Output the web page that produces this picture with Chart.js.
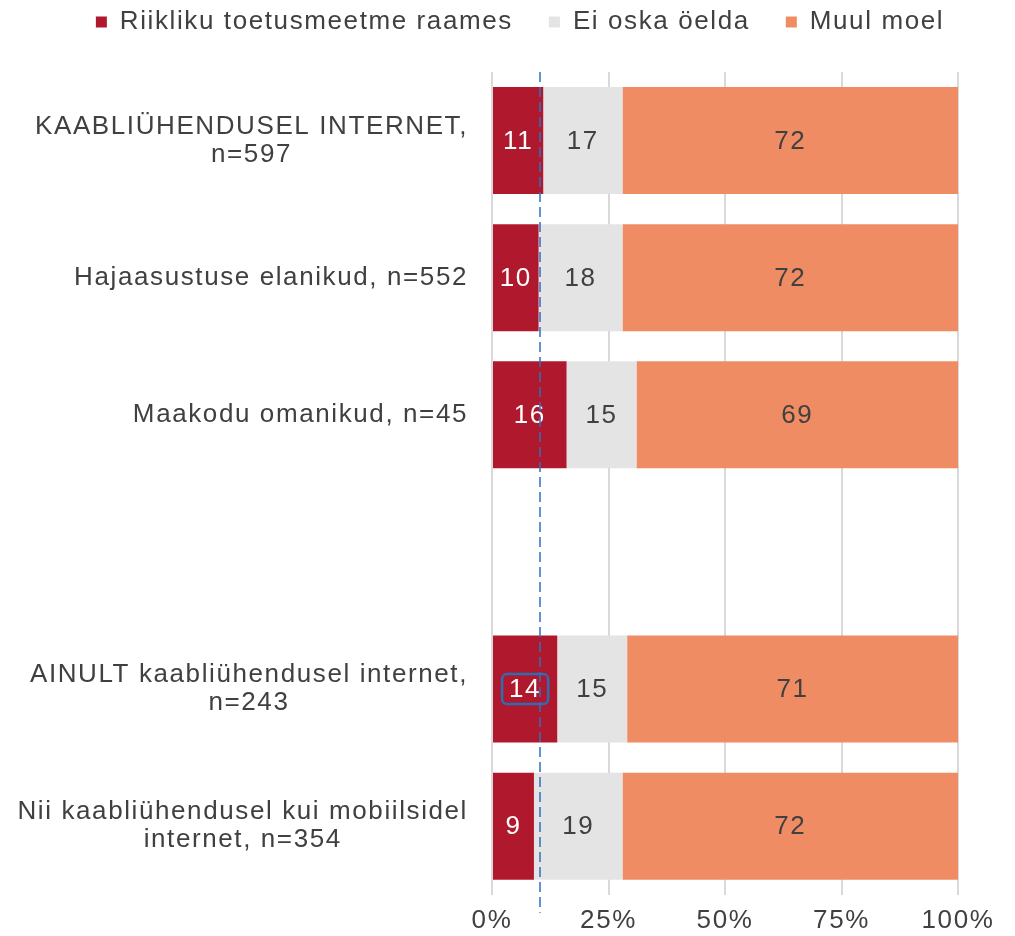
<!DOCTYPE html>
<html>
<head>
<meta charset="utf-8">
<style>
  html, body { margin: 0; padding: 0; background: #fff; }
</style>
<script src="https://cdn.jsdelivr.net/npm/chart.js@4/dist/chart.umd.min.js"></script>
</head>
<body>
<canvas id="grafico" width="1015" height="936"></canvas>
<script>
// andmed
var kategooriad = [
    ['KAABLIÜHENDUSEL INTERNET,', 'n=597'],
    ['Hajaasustuse elanikud, n=552'],
    ['Maakodu omanikud, n=45'],
    [''],
    ['AINULT kaabliühendusel internet,', 'n=243'],
    ['Nii kaabliühendusel kui mobiilsidel', 'internet, n=354']
];
var riiklik = [11, 10, 16, null, 14, 9];
var eiOska = [17, 18, 15, null, 15, 19];
var muulMoel = [72, 72, 69, null, 71, 72];
var seeriad = ['Riikliku toetusmeetme raames', 'Ei oska öelda', 'Muul moel'];
var xTicks = [0, 25, 50, 75, 100];
var keskmine = 10.3;      // sinine katkendjoon
var esiletoos = { seeria: 0, rida: 4 };  // kastiga märgitud silt

var FONT = "'Liberation Sans', Arial, sans-serif";
var TEKST = '#404040';
var VAHE = '1.6px';   // tähevahe, originaal on hõredam

// tähevahe kogu joonisele (canvas kaotab selle suuruse muutmisel)
var taheVahe = {
    id: 'taheVahe',
    beforeUpdate: function (chart) { chart.ctx.letterSpacing = VAHE; },
    beforeDraw: function (chart) { chart.ctx.letterSpacing = VAHE; }
};

// legendi ja joonise vahe, legend veidi paremale
var legendiVahe = {
    id: 'legendiVahe',
    beforeInit: function (chart) {
        var legend = chart.legend;
        var fit = legend.fit;
        legend.fit = function () {
            fit.bind(legend)();
            this.height += 27;
        };
        var draw = legend.draw;
        legend.draw = function () {
            chart.ctx.save();
            chart.ctx.translate(41, 0);
            draw.bind(legend)();
            chart.ctx.restore();
        };
    }
};

// y-telje sildid: plokk paremale, read keskele
var ySildid = {
    id: 'ySildid',
    afterDraw: function (chart) {
        var ctx = chart.ctx;
        var y = chart.scales.y;
        ctx.save();
        ctx.font = '26px ' + FONT;
        ctx.fillStyle = TEKST;
        ctx.textAlign = 'center';
        ctx.textBaseline = 'middle';
        var lh = 28;
        kategooriad.forEach(function (read, i) {
            var w = 0;
            read.forEach(function (r) { w = Math.max(w, ctx.measureText(r).width); });
            var cx = chart.chartArea.left - 24 - w / 2;
            var cy = y.getPixelForValue(i);
            read.forEach(function (r, j) {
                ctx.fillText(r, cx, cy + (j - (read.length - 1) / 2) * lh);
            });
        });
        ctx.restore();
    }
};

// väärtuste sildid ja katkendjoon
var sildid = {
    id: 'sildid',
    afterDatasetsDraw: function (chart) {
        var ctx = chart.ctx;
        ctx.save();
        ctx.font = '26px ' + FONT;
        ctx.textAlign = 'center';
        ctx.textBaseline = 'middle';
        chart.data.datasets.forEach(function (ds, di) {
            var meta = chart.getDatasetMeta(di);
            meta.data.forEach(function (bar, i) {
                var v = ds.data[i];
                if (v === null) return;
                var cx = (bar.x + bar.base) / 2;
                ctx.fillStyle = di === 0 ? '#ffffff' : TEKST;
                ctx.fillText(String(v), cx, bar.y + 1);
                if (di === esiletoos.seeria && i === esiletoos.rida) {
                    var w = ctx.measureText(String(v)).width + 14;
                    ctx.strokeStyle = '#2E6DB4';
                    ctx.lineWidth = 2.5;
                    ctx.beginPath();
                    ctx.roundRect(cx - w / 2, bar.y - 15, w, 30, 5);
                    ctx.stroke();
                }
            });
        });
        var xs = chart.scales.x;
        var x = xs.getPixelForValue(keskmine);
        ctx.strokeStyle = '#2E70C4';
        ctx.lineWidth = 1.5;
        ctx.setLineDash([10, 5]);
        ctx.beginPath();
        ctx.moveTo(x, chart.chartArea.top);
        ctx.lineTo(x, chart.chartArea.bottom + 18);
        ctx.stroke();
        ctx.restore();
    }
};

var ctx = document.getElementById('grafico').getContext('2d');
var grafico = new Chart(ctx, {
    type: 'bar',
    data: {
        labels: kategooriad,
        datasets: [{
            label: seeriad[0],
            data: riiklik,
            backgroundColor: '#B0192D'
        }, {
            label: seeriad[1],
            data: eiOska,
            backgroundColor: '#E4E4E4'
        }, {
            label: seeriad[2],
            data: muulMoel,
            backgroundColor: '#F08C63'
        }]
    },
    options: {
        indexAxis: 'y',
        responsive: false,
        animation: false,
        devicePixelRatio: 1,
        layout: {
            padding: { top: -27, right: 57, bottom: -10, left: 0 }
        },
        datasets: {
            bar: { barPercentage: 0.78, categoryPercentage: 1.0 }
        },
        plugins: {
            legend: {
                position: 'top',
                labels: {
                    font: { family: FONT, size: 26 },
                    color: TEKST,
                    boxWidth: 11,
                    boxHeight: 11,
                    padding: 36
                }
            },
            tooltip: { enabled: false }
        },
        scales: {
            x: {
                stacked: true,
                min: 0,
                max: 100,
                afterBuildTicks: function (scale) {
                    scale.ticks = xTicks.map(function (v) { return { value: v }; });
                },
                ticks: {
                    font: { family: FONT, size: 26 },
                    color: TEKST,
                    padding: 10,
                    callback: function (v) { return v + '%'; }
                },
                grid: {
                    color: '#D9D9D9',
                    lineWidth: 2,
                    drawTicks: false
                },
                border: { display: false }
            },
            y: {
                stacked: true,
                ticks: { display: false },
                grid: { display: false },
                border: { display: false },
                afterFit: function (scale) { scale.width = 492; }
            }
        }
    },
    plugins: [taheVahe, legendiVahe, ySildid, sildid]
});
</script>
</body>
</html>
